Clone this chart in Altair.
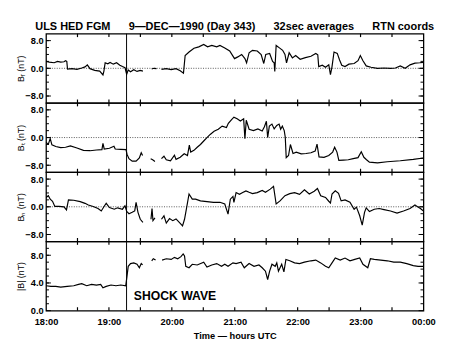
import altair as alt
import pandas as pd

FONT = "Liberation Sans"
W, H = 387, 71
SHOCK_T = 76.8  # minutes after 18:00 UT

# ---- data: minutes after 18:00 UT and field values in nT (None = data gap) ----
br_t = [0, 3.1, 7.8, 10.9, 14.0, 17.1, 18.6, 19.8, 20.5, 24.8, 29.5, 34.1, 37.2, 39.4, 41.9, 46.5,
        51.2, 54.3, 55.2, 56.4, 58.9, 61.1, 64.2, 67.3, 70.4, 72.9, 75.3, 76.9, 78.4, 80.6, 83.7,
        86.8, 89.9, 92.4, 96, 100.8, 102.9, 105.4, 108, 110.1, 114.7, 119.4, 124.0, 128.0, 131.1,
        132.7, 136.4, 141.1, 145.7, 150.4, 154.1, 158.1, 162.8, 165.9, 170.5, 175.2, 179.8, 182.9,
        186.6, 189.7, 191.3, 193.7, 196.9, 201.5, 205.2, 207.7, 209.6, 213.3, 216.1, 217.6, 218.2,
        219.5, 222.6, 225.7, 227.9, 229.4, 231.9, 235.0, 238.1, 242.4, 247.4, 252.7, 257.3, 259.2,
        260.1, 263.5, 266.6, 269.7, 271.3, 272.8, 274.7, 277.8, 280.0, 282.1, 285.2, 288.9, 293.9,
        297.6, 299.8, 302.3, 305.4, 310.0, 316.2, 322.4, 328.6, 333.3, 337.9, 342.6, 347.2, 351.9,
        356.5, 360]
br_v = [2.0, 1.8, 1.6, 2.0, 1.8, 1.9, 2.2, 2.0, -0.2, -0.1, -0.3, 0.1, 0.4, 1.0, -0.1, -0.6,
        -0.8, -1.9, -0.8, 1.6, 1.3, 1.7, 1.2, 1.6, 0.9, 0.5, 0.2, -1.7, -0.5, -1.0, -0.4,
        -0.9, -0.6, -0.8, None, -0.2, 0.0, -0.1, None, -0.3, -0.1, -0.4, -0.1, -0.7, -1.4,
        3.7, 4.7, 5.8, 6.2, 6.9, 6.2, 6.6, 6.2, 6.6, 5.9, 5.0, 2.8, 3.3,
        4.0, 2.8, 1.6, 4.5, 5.2, 5.0, 4.0, 1.4, 4.0, 4.3, 2.0, 1.6, -0.9,
        6.6, 5.9, 5.2, 4.0, 1.6, 4.5, 3.0, 3.7, 2.6, 3.1, 3.5, 4.3, 3.9,
        0.5, 0.9, 0.3, 1.0, -1.8, 0.5, 4.7, 4.3, 2.4, 0.9, 0.5, 1.2, 1.4,
        2.2, 3.7, 2.2, 0.7, 0.3, 0.0, 0.1, 0.0, 0.1, 0.7, 0.0, 1.0, 1.5,
        1.6, 1.7]

bt_t = [0, 2.2, 4.0, 5.6, 9.3, 14.0, 18.6, 23.3, 29.5, 35.7, 41.9, 48.1, 53.3, 54.3, 55.5, 60.5,
        64.8, 66.0, 71.3, 76.3, 77.2, 79.1, 82.2, 85.9, 89.0, 90.8, 92.1, 96, 99.8, 101.7, 103.9,
        107, 110.1, 112.5, 114.7, 118.7, 122.5, 124.0, 128.0, 131.8, 134.9, 136.7, 138.0, 141.1,
        144.2, 147.3, 150.4, 153.5, 156.6, 160.3, 164.3, 168.0, 172.1, 173.9, 177.0, 179.2, 182.3,
        185.4, 188.5, 189.7, 191.0, 193.7, 197.8, 202.1, 206.2, 208.3, 210.2, 211.4, 213.0, 215.5,
        217.6, 220.1, 222.3, 223.8, 225.4, 227.2, 228.2, 229.1, 231.3, 233.1, 235.6, 238.7, 243.4,
        248.0, 252.7, 256.7, 258.5, 260.4, 265.1, 269.7, 273.4, 275.3, 277.5, 279.3, 283.6, 288.3,
        293.0, 297.6, 300.7, 303.2, 305.7, 308.5, 316.2, 325.5, 337.9, 350.3, 360]
bt_v = [-1.4, -1.9, -0.3, -2.1, -2.6, -2.9, -2.8, -2.4, -3.0, -3.7, -3.8, -3.6, -3.5, -1.7, -3.3, -3.1,
        -2.5, -3.3, -3.4, -3.5, -4.8, -6.1, -6.8, -6.8, -5.9, -4.4, -5.2, None, -6.1, -6.4, -6.9,
        None, -6.1, -5.4, -6.4, -6.7, -5.1, -6.3, -5.7, -4.7, -5.2, -2.2, -4.2, -3.7,
        -2.8, -2.0, -1.0, 0.0, 0.9, 1.8, 2.4, 3.3, 2.9, 4.1, 5.2, 5.9, 5.4,
        4.8, 5.4, -0.3, 5.0, 2.4, 2.0, 2.5, 1.9, 3.1, 4.7, 0.0, 3.3, 3.9,
        2.5, 3.5, 3.9, 2.4, 3.3, 2.0, 0.1, -5.8, -5.2, -2.0, -4.6, -4.2, -4.7,
        -4.6, -4.4, -3.9, -1.9, -5.6, -5.7, -5.2, -4.2, -2.8, -4.2, -6.6, -6.5, -6.4,
        -6.1, -5.8, -4.1, -5.7, -6.4, -7.1, -7.3, -7.0, -6.7, -6.3, -5.9]

bn_t = [0, 2.2, 4.0, 6.2, 8.4, 12.4, 17.1, 19.5, 21.4, 26.4, 32.6, 37.2, 40.3, 45.0, 49.6, 52.7,
        55.8, 57.4, 60.5, 65.1, 68.2, 72.9, 75.3, 76.9, 79.1, 82.2, 84.6, 85.9, 87.7, 89.9, 92.4,
        96, 100.1, 101.1, 102.0, 103.9, 107, 110.1, 112.5, 114.7, 117.8, 120.9, 124.0, 127.1,
        130.2, 132.1, 133.6, 136.4, 139.5, 142.6, 147.3, 153.5, 159.7, 165.9, 170.5, 173.6, 175.8,
        178.3, 179.2, 181.3, 184.5, 187.6, 190.7, 193.7, 196.9, 201.5, 206.2, 209.3, 213.9, 217.0,
        219.5, 223.2, 227.9, 232.5, 237.1, 241.8, 246.5, 251.1, 255.8, 258.9, 262.0, 266.6, 269.7,
        271.3, 272.8, 275.9, 279.0, 281.5, 285.2, 289.9, 293.9, 296.1, 299.2, 301.6, 303.8, 305.4,
        308.5, 313.1, 317.8, 322.4, 328.6, 334.8, 341.0, 347.2, 351.9, 354.0, 357.1, 360]
bn_v = [2.7, 3.2, 2.2, 1.6, 0.1, 0.1, 0.0, -0.9, 2.0, 1.9, 1.5, 1.0, 0.5, 0.1, -0.5, -1.2,
        0.3, 1.0, -0.2, -0.7, -0.3, -0.7, 0.3, -1.3, -2.0, -1.6, -1.2, 1.3, -1.6, -3.6, -4.5,
        None, -3.6, -0.5, -4.0, -3.2, None, -3.6, -2.6, -4.7, -3.4, -4.0, -3.5, -4.5,
        -5.5, -3.6, -1.1, 3.7, 2.2, 2.2, 1.7, 1.5, 1.3, 1.3, 0.8, -2.1, 2.2,
        3.0, 1.3, 4.1, 3.6, 4.1, 4.6, 4.2, 3.8, 4.1, 4.7, 4.2, 5.1, 5.9,
        0.8, 1.7, 3.2, 3.8, 4.1, 3.6, 4.9, 3.7, 4.5, 5.3, 3.2, 2.7, 1.6,
        1.1, 3.7, 4.6, 3.9, 1.7, 2.0, 1.3, -0.7, -0.1, -2.6, -5.3, -1.6, -0.3,
        -1.4, -0.7, -0.5, -0.8, -1.2, -1.8, -1.2, -0.5, 0.5, 0.1, -0.5, -1.2]

bm_t = [0, 4.7, 9.3, 14.0, 20.2, 26.4, 31.0, 34.1, 38.8, 43.4, 48.1, 52.1, 54.3, 57.4, 62.0, 66.7,
        71.3, 76.0, 76.9, 78.4, 80.6, 83.7, 86.8, 89.0, 90.8, 92.1, 96, 100.8, 102.3, 104.5, 107,
        110.7, 114.7, 119.4, 122.5, 125.6, 128.7, 130.8, 132.1, 133.3, 136.4, 139.5, 144.2, 150.4,
        153.5, 158.1, 162.8, 167.4, 170.5, 173.6, 178.3, 181.3, 186.0, 189.1, 193.7, 198.4, 203.1,
        206.2, 209.3, 211.4, 213.3, 215.5, 218.6, 220.1, 221.7, 224.8, 226.9, 228.8, 232.5, 237.1,
        241.8, 246.5, 252.7, 257.3, 262.0, 266.6, 269.7, 272.8, 275.9, 280.6, 285.2, 289.9, 294.5,
        299.2, 302.3, 306.9, 309.4, 313.1, 319.3, 325.5, 331.7, 337.9, 344.1, 350.3, 354.9, 360]
bm_v = [3.6, 3.5, 3.5, 3.4, 3.5, 3.6, 3.8, 3.9, 3.6, 3.8, 3.7, 3.8, 3.3, 3.5, 3.7, 3.6,
        3.7, 3.6, 4.6, 6.4, 6.8, 6.9, 6.7, 6.2, 6.8, 6.6, None, 7.2, 7.5, 7.3, None,
        7.3, 7.5, 7.4, 7.7, 7.5, 7.8, 8.2, 7.9, 6.4, 6.2, 6.7, 6.6, 7.0,
        6.3, 6.6, 6.8, 6.4, 6.7, 6.4, 6.9, 6.8, 7.0, 6.2, 6.8, 6.4, 6.6,
        6.2, 5.7, 4.5, 5.7, 6.7, 6.4, 6.9, 5.7, 6.7, 5.6, 7.4, 7.2, 6.9,
        6.8, 7.0, 7.2, 7.3, 6.9, 6.4, 6.2, 6.9, 7.6, 7.3, 7.6, 7.2, 7.4,
        7.6, 6.7, 6.2, 7.5, 7.4, 7.3, 7.2, 7.0, 7.0, 6.8, 6.5, 6.4, 6.4]

# ---- axis tick values ----
comp_major = [-8, 0, 8]
comp_minor = [-8, -6, -4, -2, 0, 2, 4, 6, 8]
mag_major = [0, 4, 8]
mag_minor = [1, 2, 3, 4, 5, 6, 7, 8, 9]
hour_ticks = [0, 60, 120, 180, 240, 300, 360]
half_hour_ticks = [30, 60, 90, 120, 150, 180, 210, 240, 270, 300, 330]

SP = "\u00a0" * 6
TITLE = ("ULS HED FGM" + SP + "9\u2014DEC\u20141990 (Day 343)" + SP
         + "32sec averages" + SP + "RTN coords")


def to_frame(t, v):
    rows, seg = [], 0
    for ti, vi in zip(t, v):
        if vi is None:
            seg += 1
            continue
        rows.append({"t": ti, "v": vi, "seg": seg})
    return pd.DataFrame(rows)


def panel(t, v, ytitle, dom, major, minor, zero=True, bottom=False, title=None, note=None):
    xscale = alt.Scale(domain=[0, 360], nice=False, zero=False)
    yscale = alt.Scale(domain=dom, nice=False, zero=False)
    if bottom:
        xaxis = alt.Axis(values=hour_ticks,
                         labelExpr="format((18 + datum.value / 60) % 24, '02d') + ':00'",
                         title="Time \u2014 hours UTC", ticks=False, tickSize=0, domain=False,
                         grid=False, labelPadding=6, labelFontSize=9.5, labelFontWeight="bold",
                         labelFont=FONT, labelColor="black", labelFlush=False,
                         titleFont=FONT, titleFontSize=9.5, titleFontWeight="bold",
                         titleColor="black", titlePadding=5)
    else:
        xaxis = None
    yaxis = alt.Axis(values=major, format=".1f", title=ytitle, ticks=False, tickSize=0,
                     domain=False, grid=False, labelPadding=3, minExtent=19, maxExtent=19,
                     labelFont=FONT, labelFontSize=9.5, labelFontWeight="bold",
                     labelColor="black", titleFont=FONT, titleFontSize=9,
                     titleFontWeight="normal", titleColor="black", titlePadding=2)
    X = alt.X("t:Q", scale=xscale, axis=xaxis)
    Y = alt.Y("v:Q", scale=yscale, axis=yaxis)

    layers = []
    if zero:
        layers.append(alt.Chart(pd.DataFrame({"v": [0]})).mark_rule(
            color="#555", strokeWidth=1, strokeDash=[1, 1.5]).encode(y=Y))
    layers.append(alt.Chart(to_frame(t, v)).mark_line(
        color="black", strokeWidth=1.2, clip=True).encode(x=X, y=Y, detail="seg:N"))
    layers.append(alt.Chart(pd.DataFrame({"t": [SHOCK_T]})).mark_rule(
        color="black", strokeWidth=1).encode(x=X))
    xt = pd.DataFrame({"t": half_hour_ticks})
    layers.append(alt.Chart(xt).mark_rule(color="black", strokeWidth=1.2).encode(
        x=X, y=alt.value(0), y2=alt.value(3.5)))
    layers.append(alt.Chart(xt).mark_rule(color="black", strokeWidth=1.2).encode(
        x=X, y=alt.value(H - 3.5), y2=alt.value(H)))
    ymin = pd.DataFrame({"v": minor})
    ymaj = pd.DataFrame({"v": major})
    layers.append(alt.Chart(ymin).mark_rule(color="black").encode(
        y=Y, x=alt.value(0), x2=alt.value(3)))
    layers.append(alt.Chart(ymaj).mark_rule(color="black").encode(
        y=Y, x=alt.value(0), x2=alt.value(5)))
    layers.append(alt.Chart(ymin).mark_rule(color="black").encode(
        y=Y, x=alt.value(W - 3), x2=alt.value(W)))
    layers.append(alt.Chart(ymaj).mark_rule(color="black").encode(
        y=Y, x=alt.value(W - 5), x2=alt.value(W)))
    if note is not None:
        layers.append(alt.Chart(pd.DataFrame(note)).mark_text(
            align="left", baseline="middle", font=FONT, fontSize=12.5, fontWeight="bold",
            color="black").encode(x=X, y=Y, text="label:N"))

    ch = alt.layer(*layers).properties(width=W, height=H)
    if title is not None:
        ch = ch.properties(title=alt.TitleParams(
            title, font=FONT, fontSize=11.2, fontWeight="bold", color="black",
            anchor="middle", frame="group", offset=1))
    return ch


p1 = panel(br_t, br_v, "B\u1d63 (nT)", [-10, 10], comp_major, comp_minor, title=TITLE)
p2 = panel(bt_t, bt_v, "B\u209c (nT)", [-10, 10], comp_major, comp_minor)
p3 = panel(bn_t, bn_v, "B\u2099 (nT)", [-10, 10], comp_major, comp_minor)
p4 = panel(bm_t, bm_v, "|B| (nT)", [0, 10], mag_major, mag_minor, zero=False, bottom=True,
           note={"t": [83.7], "v": [2.1], "label": ["SHOCK WAVE"]})

chart = alt.vconcat(p1, p2, p3, p4, spacing=0, bounds="flush").properties(
    padding={"left": 8, "top": 8, "right": 5, "bottom": 5},
    background="white",
).configure_view(stroke="black", strokeWidth=1.3)

chart.save("out.html", embed_options={"renderer": "svg", "actions": False})
